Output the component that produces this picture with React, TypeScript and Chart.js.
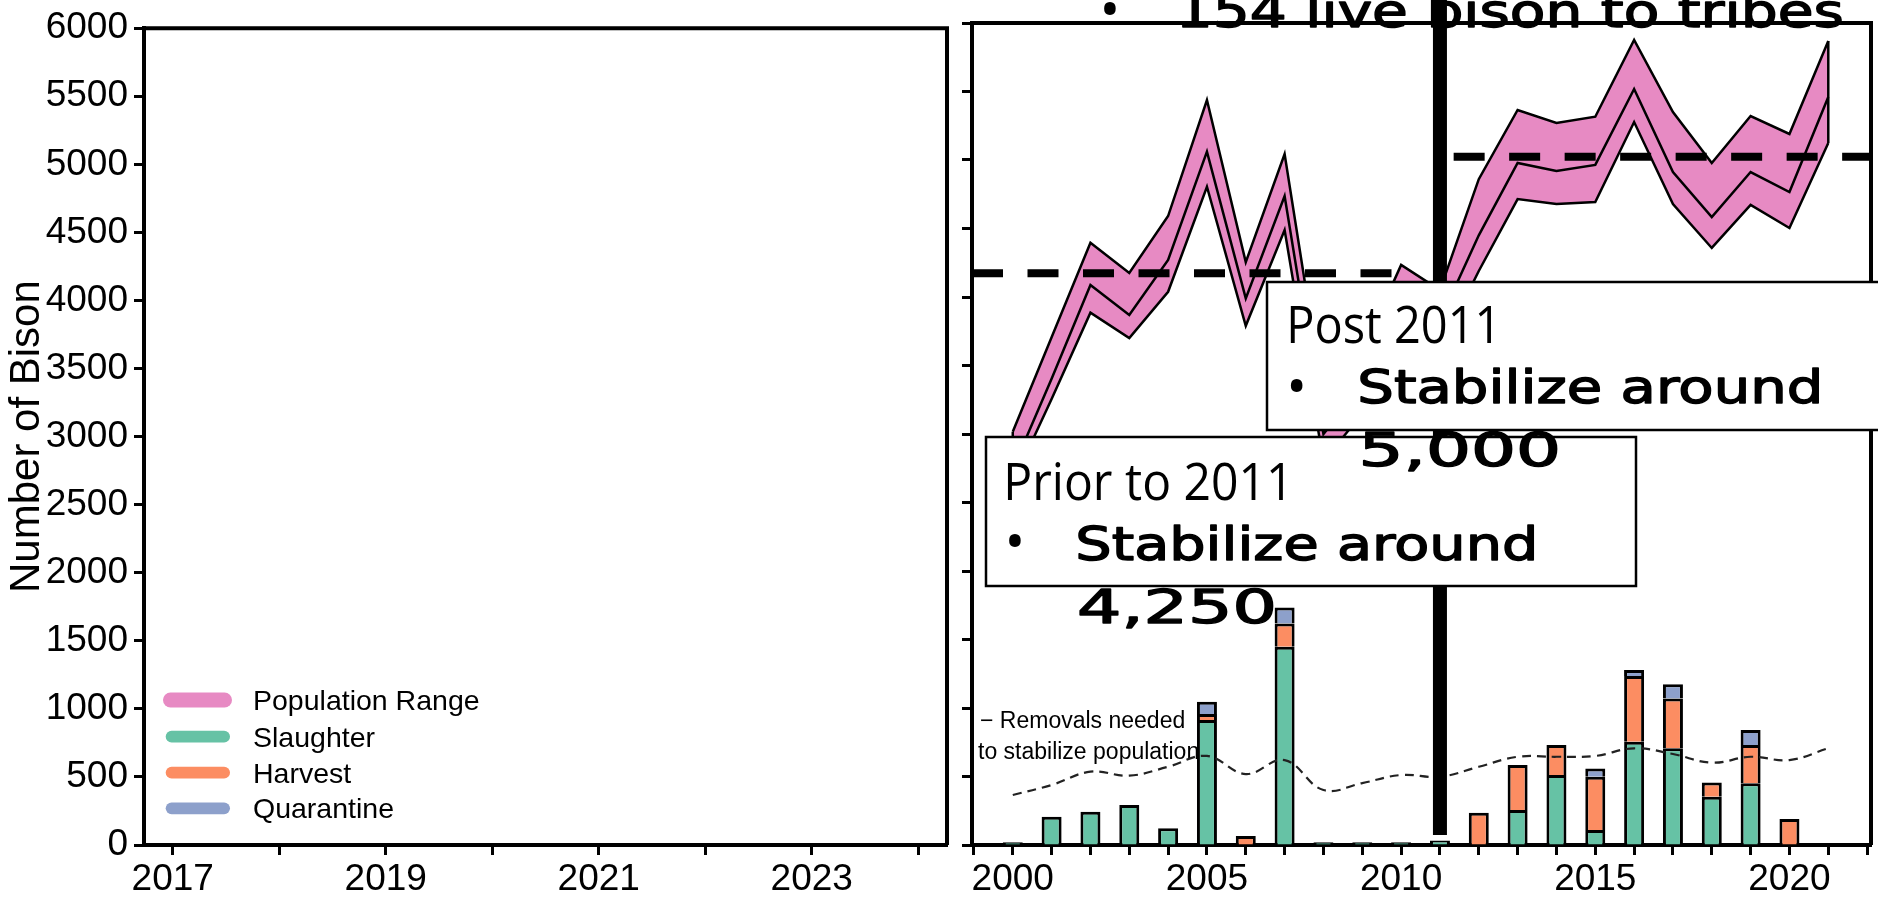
import React, { useEffect, useRef } from 'react';
import { Chart, registerables } from 'chart.js';

Chart.register(...registerables);

// ---------------- data ----------------
const bandYears = [2000, 2001, 2002, 2003, 2004, 2005, 2006, 2007, 2008, 2009, 2010, 2011, 2012, 2013, 2014, 2015, 2016, 2017, 2018, 2019, 2020, 2021];
const bandUpper = [3016, 3706, 4396, 4175, 4591, 5438, 4255, 5044, 3250, 3600, 4234, 4050, 4860, 5365, 5270, 5316, 5876, 5350, 4978, 5321, 5190, 5869];
const bandMiddle = [2745, 3404, 4088, 3869, 4270, 5061, 3990, 4737, 3000, 3350, 3980, 3830, 4450, 4978, 4920, 4964, 5518, 4912, 4584, 4912, 4766, 5460];
const bandLower = [2644, 3255, 3886, 3700, 4038, 4805, 3790, 4489, 2800, 3150, 3760, 3620, 4190, 4715, 4679, 4693, 5277, 4679, 4358, 4672, 4504, 5124];

const removalsNeeded = [365, 438, 535, 506, 571, 650, 518, 620, 401, 452, 511, 498, 571, 644, 644, 650, 706, 664, 601, 644, 620, 706];

const barYears = [2000, 2001, 2002, 2003, 2004, 2005, 2006, 2007, 2008, 2009, 2010, 2011, 2012, 2013, 2014, 2015, 2016, 2017, 2018, 2019, 2020];
const slaughter = [20, 207, 243, 292, 122, 912, null, 1447, 20, 20, 20, 32, null, 255, 511, 109, 754, 706, 353, 450, null];
const harvest = [null, null, null, null, null, 44, 66, 170, null, null, null, null, 236, 329, 219, 389, 479, 364, 104, 280, 190];
const quarantine = [null, null, null, null, null, 90, null, 117, null, null, null, null, null, null, null, 61, 44, 103, null, 109, null];

const priorTarget = 4173;
const priorSpan = [1998.95, 2010];
const postTarget = 5024;
const postSpan = [2011, 2022.1];
const dividerYear = 2011;
const dividerSpan = [73, 6400];

const rightXRange = [1998.95, 2022.1];
const leftXRange = [2016.73, 2024.27];
const rightXLabels = [2000, 2005, 2010, 2015, 2020];
const leftXLabels = [2017, 2019, 2021, 2023];
const yRange = [0, 6000];
const yStep = 500;

const seriesNames = ['Population Range', 'Slaughter', 'Harvest', 'Quarantine'];
const seriesColors = ['#e78ac3', '#66c2a5', '#fc8d62', '#8da0cb'];

const yTitle = 'Number of Bison';
const priorLines = ['Prior to 2011', 'Stabilize around', '4,250'];
const postLines = ['Post 2011', 'Stabilize around', '5,000'];
const topLine = '154 live bison to tribes';
const removalsLabel = ['\u2212 Removals needed', 'to stabilize population'];

// ---------------- styling ----------------
const AXIS_FONT = "'Liberation Sans', Arial, sans-serif";
const HEAD_FONT = "'Open Sans', 'Noto Sans', sans-serif";
const HAND_FONT = "'DejaVu Sans', sans-serif";
const HEAD_SIZE = 51;
const HAND_SIZE = 46.5;
const OX = 960; // left offset of right canvas

function pts(xs: number[], ys: (number | null)[]) {
  return xs.map((x, i) => ({ x, y: ys[i] }));
}

function bullet(ctx: any, cx: number, cy: number, d: number) {
  ctx.font = `100px ${HEAD_FONT}`;
  const m = ctx.measureText('\u2022');
  const h = m.actualBoundingBoxAscent + m.actualBoundingBoxDescent;
  const s = (100 * d) / (h || 30);
  ctx.font = `${s}px ${HEAD_FONT}`;
  const m2 = ctx.measureText('\u2022');
  const x = cx - (m2.actualBoundingBoxRight - m2.actualBoundingBoxLeft) / 2;
  const y = cy + (m2.actualBoundingBoxAscent - m2.actualBoundingBoxDescent) / 2;
  ctx.fillText('\u2022', x, y);
}

// draws text so that its ink spans the given width (horizontal fit)
function fitText(ctx: any, text: string, x: number, y: number, width: number, font: string, embolden = 0) {
  ctx.font = font;
  const m = ctx.measureText(text);
  const ink = m.actualBoundingBoxRight + m.actualBoundingBoxLeft || m.width;
  const sx = width / ink;
  ctx.save();
  ctx.translate(x + m.actualBoundingBoxLeft * sx, y);
  ctx.scale(sx, 1);
  ctx.fillText(text, 0, 0);
  if (embolden > 0) {
    ctx.lineWidth = embolden;
    ctx.lineJoin = 'round';
    ctx.strokeStyle = ctx.fillStyle;
    ctx.strokeText(text, 0, 0);
  }
  ctx.restore();
}

function box(ctx: any, x0: number, y0: number, x1: number, y1: number) {
  ctx.fillStyle = '#fff';
  ctx.fillRect(x0, y0, x1 - x0, y1 - y0);
  ctx.strokeStyle = '#000';
  ctx.lineWidth = 2.5;
  ctx.strokeRect(x0, y0, x1 - x0, y1 - y0);
}

function frame(ctx: any, a: any) {
  ctx.strokeStyle = '#000';
  ctx.lineWidth = 4;
  ctx.lineJoin = 'miter';
  ctx.beginPath();
  ctx.moveTo(a.left, a.top);
  ctx.lineTo(a.right, a.top);
  ctx.lineTo(a.right, a.bottom);
  ctx.stroke();
}

const gridOpts = {
  display: true,
  drawOnChartArea: false,
  drawTicks: true,
  tickLength: 10,
  tickWidth: 3,
  tickColor: '#000',
  offset: false,
};
const borderOpts = { display: true, width: 4, color: '#000' };
const tickFont = { family: AXIS_FONT, size: 37 };

function xScale(range: number[], labels: number[]) {
  return {
    type: 'linear',
    min: range[0],
    max: range[1],
    offset: false,
    stacked: true,
    ticks: {
      stepSize: 1,
      includeBounds: false,
      autoSkip: false,
      maxRotation: 0,
      minRotation: 0,
      font: tickFont,
      color: '#000',
      padding: 3,
      callback: (v: any) => (labels.includes(Number(v)) ? String(v) : ''),
    },
    grid: gridOpts,
    border: borderOpts,
    afterFit: (s: any) => {
      s.height = 55;
    },
  };
}

function yScale(showLabels: boolean, width: number, title: boolean) {
  return {
    type: 'linear',
    min: yRange[0],
    max: yRange[1],
    stacked: true,
    ticks: {
      stepSize: yStep,
      display: showLabels,
      font: tickFont,
      color: '#000',
      padding: 6,
      callback: (v: any) => String(v),
    },
    title: {
      display: title,
      text: yTitle,
      color: '#000',
      font: { family: AXIS_FONT, size: 42 },
      padding: { top: 2, bottom: 0 },
    },
    grid: gridOpts,
    border: borderOpts,
    afterFit: (s: any) => {
      s.width = width;
    },
  };
}

const leftPlugin = {
  id: 'leftDecor',
  afterDraw(chart: any) {
    const { ctx, chartArea } = chart;
    ctx.save();
    frame(ctx, chartArea);
    // legend
    const rows = [700, 736.7, 772.7, 808.3];
    seriesNames.forEach((name, i) => {
      const cy = rows[i];
      const lw = i === 0 ? 15 : 11.7;
      const x0 = i === 0 ? 163 : 165.7;
      const x1 = i === 0 ? 232 : 230;
      ctx.strokeStyle = seriesColors[i];
      ctx.lineWidth = lw;
      ctx.lineCap = 'round';
      ctx.beginPath();
      ctx.moveTo(x0 + lw / 2, cy);
      ctx.lineTo(x1 - lw / 2, cy);
      ctx.stroke();
      ctx.fillStyle = '#000';
      ctx.font = `28.5px ${AXIS_FONT}`;
      ctx.textAlign = 'left';
      ctx.textBaseline = 'alphabetic';
      ctx.fillText(name, 253, cy + 10);
    });
    ctx.restore();
  },
};

const rightPlugin = {
  id: 'rightDecor',
  beforeDatasetsDraw(chart: any) {
    const ctx = chart.ctx;
    ctx.save();
    ctx.fillStyle = '#000';
    ctx.textAlign = 'left';
    ctx.textBaseline = 'alphabetic';
    bullet(ctx, 1110 - OX, 8.3, 13.3);
    fitText(ctx, topLine, 1182 - OX, 27, 659, `${HAND_SIZE}px ${HAND_FONT}`, 1.4);
    ctx.font = `23px ${AXIS_FONT}`;
    ctx.fillText(removalsLabel[0], 980 - OX, 728);
    ctx.fillText(removalsLabel[1], 978 - OX, 759);
    ctx.restore();
  },
  afterDatasetsDraw(chart: any) {
    const { ctx, scales } = chart;
    const xs = scales.x;
    const ys = scales.y;
    ctx.save();
    ctx.strokeStyle = '#000';
    ctx.lineWidth = 2.5;
    [0, bandYears.length - 1].forEach((i) => {
      const px = xs.getPixelForValue(bandYears[i]);
      ctx.beginPath();
      ctx.moveTo(px, ys.getPixelForValue(bandUpper[i]));
      ctx.lineTo(px, ys.getPixelForValue(bandLower[i]));
      ctx.stroke();
    });
    ctx.restore();
  },
  afterDraw(chart: any) {
    const { ctx, chartArea } = chart;
    ctx.save();
    frame(ctx, chartArea);
    ctx.textAlign = 'left';
    ctx.textBaseline = 'alphabetic';
    const head = `${HEAD_SIZE}px ${HEAD_FONT}`;
    const hand = `${HAND_SIZE}px ${HAND_FONT}`;
    // Prior box
    box(ctx, 986 - OX, 437, 1636 - OX, 586);
    ctx.fillStyle = '#000';
    fitText(ctx, priorLines[0], 1007 - OX, 500, 276, head);
    bullet(ctx, 1015 - OX, 540, 13.3);
    fitText(ctx, priorLines[1], 1079 - OX, 560, 455, hand, 1.4);
    fitText(ctx, priorLines[2], 1080 - OX, 623, 193, hand, 1.4);
    // Post box
    box(ctx, 1267 - OX, 282, 1910 - OX, 430);
    ctx.fillStyle = '#000';
    fitText(ctx, postLines[0], 1290 - OX, 343, 201, head);
    bullet(ctx, 1296.7 - OX, 385, 13.3);
    fitText(ctx, postLines[1], 1361 - OX, 403, 458, hand, 1.4);
    fitText(ctx, postLines[2], 1363 - OX, 466, 194, hand, 1.4);
    ctx.restore();
  },
};

function leftConfig(): any {
  return {
    type: 'line',
    data: { datasets: [] },
    options: {
      responsive: false,
      animation: false,
      events: [],
      layout: { padding: { left: 0, top: 23, right: 13, bottom: 0 } },
      plugins: { legend: { display: false }, tooltip: { enabled: false } },
      scales: {
        x: xScale(leftXRange, leftXLabels),
        y: yScale(true, 144, true),
      },
    },
    plugins: [leftPlugin],
  };
}

function rightConfig(): any {
  const lineBase = { pointRadius: 0, pointHoverRadius: 0, fill: false, borderCapStyle: 'butt' };
  const barBase = {
    type: 'bar',
    borderColor: '#000',
    borderWidth: 3,
    categoryPercentage: 0.515,
    barPercentage: 1,
    order: 3,
    stack: 'bars',
  };
  return {
    type: 'bar',
    data: {
      datasets: [
        {
          ...lineBase,
          type: 'line',
          label: '2011 divide',
          data: [
            { x: dividerYear, y: dividerSpan[0] },
            { x: dividerYear, y: dividerSpan[1] },
          ],
          borderColor: '#000',
          borderWidth: 14,
          clip: false,
          order: 0,
          stack: 'divider',
        },
        {
          ...lineBase,
          type: 'line',
          label: 'Prior target',
          data: [
            { x: priorSpan[0], y: priorTarget },
            { x: priorSpan[1], y: priorTarget },
          ],
          borderColor: '#000',
          borderWidth: 8,
          borderDash: [31, 24.5],
          order: 1,
          stack: 'prior',
        },
        {
          ...lineBase,
          type: 'line',
          label: 'Post target',
          data: [
            { x: postSpan[0], y: postTarget },
            { x: postSpan[1], y: postTarget },
          ],
          borderColor: '#000',
          borderWidth: 8,
          borderDash: [31, 24.5],
          borderDashOffset: 41.8,
          order: 1,
          stack: 'post',
        },
        {
          ...lineBase,
          type: 'line',
          label: 'Removals needed to stabilize population',
          data: pts(bandYears, removalsNeeded),
          borderColor: '#222',
          borderWidth: 2.2,
          borderDash: [9, 6],
          tension: 0.4,
          order: 2,
          stack: 'removals',
        },
        { ...barBase, label: seriesNames[1], data: pts(barYears, slaughter), backgroundColor: seriesColors[1] },
        { ...barBase, label: seriesNames[2], data: pts(barYears, harvest), backgroundColor: seriesColors[2] },
        { ...barBase, label: seriesNames[3], data: pts(barYears, quarantine), backgroundColor: seriesColors[3] },
        {
          ...lineBase,
          type: 'line',
          label: 'Population (middle)',
          data: pts(bandYears, bandMiddle),
          borderColor: '#000',
          borderWidth: 2.5,
          order: 4,
          stack: 'bandMid',
        },
        {
          ...lineBase,
          type: 'line',
          label: 'Population (upper)',
          data: pts(bandYears, bandUpper),
          borderColor: '#000',
          borderWidth: 2.5,
          order: 5,
          stack: 'bandUp',
        },
        {
          ...lineBase,
          type: 'line',
          label: seriesNames[0],
          data: pts(bandYears, bandLower),
          borderColor: '#000',
          borderWidth: 2.5,
          backgroundColor: seriesColors[0],
          fill: '-1',
          order: 6,
          stack: 'bandLow',
        },
      ],
    },
    options: {
      responsive: false,
      animation: false,
      events: [],
      layout: { padding: { left: 0, top: 23, right: 7, bottom: 0 } },
      plugins: { legend: { display: false }, tooltip: { enabled: false } },
      scales: {
        x: xScale(rightXRange, rightXLabels),
        y: yScale(false, 12, false),
      },
    },
    plugins: [rightPlugin],
  };
}

export default function App() {
  const leftRef = useRef<HTMLCanvasElement>(null);
  const rightRef = useRef<HTMLCanvasElement>(null);
  useEffect(() => {
    document.body.style.margin = '0';
    const left = new Chart(leftRef.current as HTMLCanvasElement, leftConfig());
    const right = new Chart(rightRef.current as HTMLCanvasElement, rightConfig());
    return () => {
      left.destroy();
      right.destroy();
    };
  }, []);
  return (
    <div
      style={{
        position: 'fixed',
        left: 0,
        top: 0,
        width: 1878,
        height: 900,
        background: '#fff',
        overflow: 'hidden',
      }}
    >
      <canvas ref={leftRef} width={960} height={900} style={{ position: 'absolute', left: 0, top: 0 }} />
      <canvas ref={rightRef} width={918} height={900} style={{ position: 'absolute', left: OX, top: 0 }} />
    </div>
  );
}
